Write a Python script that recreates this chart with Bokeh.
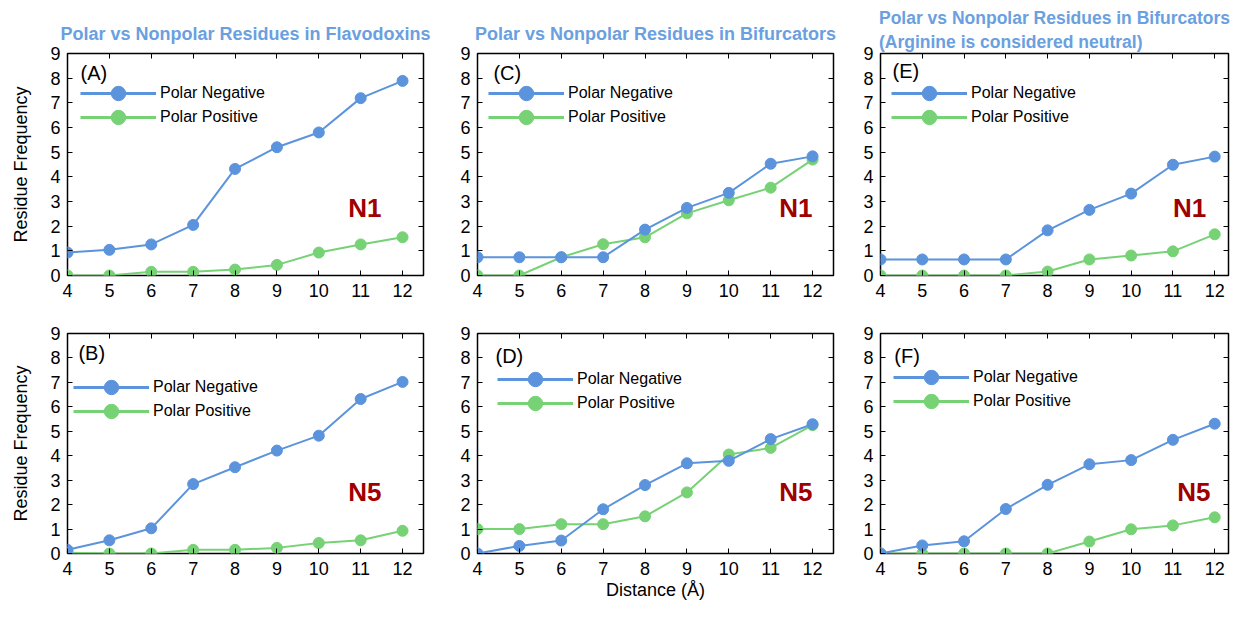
from bokeh.plotting import figure
from bokeh.models import (Label, Legend, LegendItem, LinearAxis, FixedTicker,
                          Range1d, CustomLabelingPolicy)
from bokeh.layouts import column, row
from bokeh.embed import file_html
from bokeh.resources import INLINE

# ---------------- data ----------------
distance = [4, 5, 6, 7, 8, 9, 10, 11, 12]
y_ticks = [0, 1, 2, 3, 4, 5, 6, 7, 8, 9]

flav_n1_neg = [0.93, 1.04, 1.26, 2.05, 4.32, 5.2, 5.8, 7.19, 7.89]
flav_n1_pos = [0.0, 0.0, 0.15, 0.15, 0.24, 0.43, 0.93, 1.26, 1.55]
flav_n5_neg = [0.15, 0.54, 1.03, 2.84, 3.53, 4.21, 4.82, 6.32, 7.02]
flav_n5_pos = [0.03, 0.0, 0.0, 0.15, 0.15, 0.23, 0.43, 0.54, 0.93]
bif_n1_neg = [0.74, 0.74, 0.74, 0.74, 1.86, 2.74, 3.35, 4.53, 4.83]
bif_n1_pos = [0.0, 0.0, 0.74, 1.27, 1.55, 2.52, 3.05, 3.56, 4.7]
bif_n5_neg = [0.0, 0.31, 0.53, 1.81, 2.8, 3.69, 3.79, 4.68, 5.29]
bif_n5_pos = [1.0, 1.0, 1.2, 1.2, 1.52, 2.5, 4.05, 4.32, 5.25]
arg_n1_neg = [0.65, 0.65, 0.65, 0.65, 1.83, 2.66, 3.32, 4.49, 4.82]
arg_n1_pos = [0.0, 0.0, 0.0, 0.0, 0.16, 0.65, 0.81, 0.98, 1.67]
arg_n5_neg = [0.0, 0.33, 0.5, 1.82, 2.81, 3.65, 3.82, 4.65, 5.31]
arg_n5_pos = [0.0, 0.0, 0.0, 0.0, 0.0, 0.49, 0.99, 1.15, 1.48]

series_labels = ["Polar Negative", "Polar Positive"]
title_flav = "Polar vs Nonpolar Residues in Flavodoxins"
title_bif = "Polar vs Nonpolar Residues in Bifurcators"
title_arg = "Polar vs Nonpolar Residues in Bifurcators\n(Arginine is considered neutral)"
y_label = "Residue Frequency"
x_label = "Distance (Å)"

# ---------------- style ----------------
FONT = "Liberation Sans"
BLUE = "#5b94dc"
GREEN = "#76d275"
TITLE_C = "#6aa0e0"
NRED = "#a00000"
NAN = float("nan")

hide_labels = CustomLabelingPolicy(
    code="for (const i of indices) { indices.unset(i) }\nreturn indices")


def panel(neg, pos, tag, nlab, width, height, bl, br, bt, bb, x_end,
          tag_xy, n_xy, leg_x, leg_y, title=None, title_standoff=19,
          title_size="18px", ylab=None, xlab=None):
    p = figure(width=width, height=height, output_backend="svg",
               toolbar_location=None, title=title,
               x_range=Range1d(4, x_end), y_range=Range1d(0, 9),
               min_border_left=bl, min_border_right=br,
               min_border_top=bt, min_border_bottom=bb)
    p.background_fill_color = "white"
    p.border_fill_color = "white"
    p.grid.visible = False
    p.outline_line_color = "black"
    p.outline_line_width = 1.5
    p.outline_line_alpha = 1.0
    if title is not None:
        p.title.align = "center"
        p.title.text_font = FONT
        p.title.text_font_size = title_size
        p.title.text_font_style = "bold"
        p.title.text_color = TITLE_C
        p.title.text_line_height = 1.2
        p.title.standoff = title_standoff

    for ax in (p.xaxis[0], p.yaxis[0]):
        ax.axis_line_color = None
        ax.major_tick_in = 5
        ax.major_tick_out = 0
        ax.major_tick_line_color = "black"
        ax.major_tick_line_width = 1
        ax.minor_tick_line_color = None
        ax.major_label_text_font = FONT
        ax.major_label_text_font_size = "18px"
        ax.major_label_text_color = "black"
        ax.axis_label_text_font = FONT
        ax.axis_label_text_font_size = "18px"
        ax.axis_label_text_font_style = "normal"
        ax.axis_label_text_color = "black"
    p.xaxis[0].ticker = FixedTicker(ticks=distance)
    p.yaxis[0].ticker = FixedTicker(ticks=y_ticks)
    p.xaxis[0].major_label_standoff = 8
    p.yaxis[0].major_label_standoff = 7
    if ylab:
        p.yaxis[0].axis_label = ylab
        p.yaxis[0].axis_label_standoff = 16
    if xlab:
        p.xaxis[0].axis_label = xlab
        p.xaxis[0].axis_label_standoff = 2

    # mirrored inward ticks on top and right (no labels)
    for side, ticks in (("above", distance), ("right", y_ticks)):
        ax = LinearAxis(ticker=FixedTicker(ticks=ticks),
                        major_label_policy=hide_labels,
                        major_label_text_font_size="0px",
                        major_label_standoff=0,
                        axis_line_color=None,
                        major_tick_in=5, major_tick_out=0,
                        major_tick_line_color="black",
                        minor_tick_line_color=None)
        p.add_layout(ax, side)

    # data (green first so blue sits on top)
    for vals, col in ((pos, GREEN), (neg, BLUE)):
        p.line(distance, vals, line_color=col, line_width=2)
        p.scatter(distance, vals, size=11, fill_color=col, line_color=col)

    # legend: one single-row legend per series so that the rows sit close
    # together while the legend markers stay large
    for k, (lab, col) in enumerate(zip(series_labels, (BLUE, GREEN))):
        lr = p.line([NAN], [NAN], line_color=col, line_width=3)
        sr = p.scatter([NAN], [NAN], size=15, fill_color=col, line_color=col)
        leg = Legend(items=[LegendItem(label=lab, renderers=[lr, sr])],
                     location=(leg_x, leg_y - 24 * k),
                     glyph_width=76, glyph_height=36, label_height=20,
                     padding=0, margin=0, label_standoff=4,
                     border_line_color=None, background_fill_alpha=0,
                     label_text_font=FONT, label_text_font_size="16px",
                     label_text_color="black")
        p.add_layout(leg)

    p.add_layout(Label(x=tag_xy[0], y=tag_xy[1], text=tag, text_font=FONT,
                       text_font_size="20px", text_color="black",
                       text_align="left", text_baseline="middle"))
    p.add_layout(Label(x=n_xy[0], y=n_xy[1], text=nlab, text_font=FONT,
                       text_font_size="26px", text_font_style="bold",
                       text_color=NRED, text_align="center",
                       text_baseline="middle"))
    return p


H1, H2 = 305, 299
pa = panel(flav_n1_neg, flav_n1_pos, "(A)", "N1", 450, H1, 67, 27, 53, 30, 12.5,
           (4.31, 8.2), (11.1, 2.75), 13, 164, title=title_flav, ylab=y_label)
pc = panel(bif_n1_neg, bif_n1_pos, "(C)", "N1", 410, H1, 27, 27, 53, 30, 12.5,
           (4.38, 8.2), (11.6, 2.75), 11, 164, title=title_bif)
pe = panel(arg_n1_neg, arg_n1_pos, "(E)", "N1", 372, H1, 19, 4, 53, 30, 12.33,
           (4.29, 8.3), (11.4, 2.75), 11, 164, title=title_arg, title_standoff=3,
           title_size="17.5px")
pb = panel(flav_n5_neg, flav_n5_pos, "(B)", "N5", 450, H2, 67, 27, 28, 51, 12.5,
           (4.26, 8.2), (11.1, 2.5), 6, 148, ylab=y_label)
pd = panel(bif_n5_neg, bif_n5_pos, "(D)", "N5", 410, H2, 27, 27, 28, 51, 12.5,
           (4.43, 8.1), (11.6, 2.5), 20, 156, xlab=x_label)
pf = panel(arg_n5_neg, arg_n5_pos, "(F)", "N5", 372, H2, 19, 4, 28, 51, 12.33,
           (4.33, 8.1), (11.5, 2.5), 13, 158)

layout = column(row(pa, pc, pe), row(pb, pd, pf))

open("out.html", "w").write(file_html(layout, INLINE))
